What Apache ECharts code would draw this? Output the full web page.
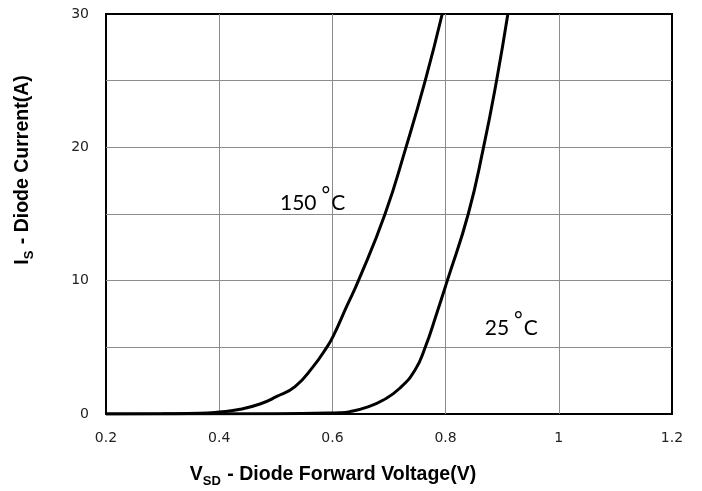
<!DOCTYPE html>
<html><head><meta charset="utf-8">
<script src="https://cdn.jsdelivr.net/npm/echarts@6/dist/echarts.min.js"></script>
<style>html,body{margin:0;padding:0;background:#fff}#c{width:702px;height:491px}</style>
</head><body><div id="c"></div>
<script>
// Tick labels
const xTicks = [0.2, 0.4, 0.6, 0.8, 1, 1.2];
const yTicks = [0, 10, 20, 30];
// 150 °C curve: forward voltage (V) vs diode current (A)
const v150 = [0.2, 0.3, 0.366, 0.4, 0.437, 0.472, 0.501, 0.534, 0.566, 0.590, 0.601, 0.625, 0.646, 0.693, 0.730, 0.764, 0.794];
const i150 = [0, 0.02, 0.05, 0.15, 0.35, 0.75, 1.3, 2.05, 3.55, 5.0, 5.8, 8.05, 10, 15, 20, 25, 30];
// 25 °C curve
const v25 = [0.2, 0.5, 0.613, 0.631, 0.660, 0.690, 0.719, 0.746, 0.764, 0.784, 0.803, 0.840, 0.867, 0.890, 0.910];
const i25 = [0, 0.01, 0.1, 0.18, 0.5, 1.05, 1.93, 3.3, 5.0, 7.5, 10, 15, 20, 25, 30];
// Curve labels
const curveNames = ['150', '25'];

const chart = echarts.init(document.getElementById('c'), null, {renderer: 'canvas'});
const zip = (xs, ys) => xs.map((x, i) => [x, ys[i]]);
const gray = '#8c8c8c';
const labelRich = {
  n: {fontFamily: 'Lato', fontSize: 21, color: '#000', verticalAlign: 'bottom'},
  d: {fontFamily: 'Lato', fontSize: 21, color: '#000', verticalAlign: 'bottom', padding: [0, 1, 8, 5]}
};
const curveLabel = {
  show: true, position: 'inside', color: '#000', opacity: 1, textBorderWidth: 0,
  formatter: p => '{n|' + p.name + '}{d|°}{n|C}',
  rich: labelRich
};
const titleRich = {
  b: {fontFamily: 'Liberation Sans', fontWeight: 'bold', fontSize: 19.5, fill: '#000', verticalAlign: 'top', lineHeight: 22},
  s: {fontFamily: 'Liberation Sans', fontWeight: 'bold', fontSize: 13, fill: '#000', verticalAlign: 'top', padding: [10, 1, 0, 0]}
};
const option = {
  animation: false,
  backgroundColor: '#fff',
  grid: {left: 106, right: 30, top: 14, bottom: 77, show: true, borderColor: '#000', borderWidth: 2, backgroundColor: 'transparent'},
  xAxis: {
    type: 'value', min: 0.2, max: 1.2, interval: 0.2,
    axisLine: {show: false}, axisTick: {show: false},
    splitLine: {show: true, showMinLine: false, showMaxLine: false, lineStyle: {color: gray, width: 1}},
    axisLabel: {
      margin: 17, color: '#222', fontSize: 14, fontFamily: 'DejaVu Sans',
      showMinLabel: true, showMaxLabel: true,
      formatter: v => { const r = Math.round(v * 10) / 10; return xTicks.some(t => Math.abs(t - r) < 1e-9) ? String(r) : ''; }
    }
  },
  yAxis: {
    type: 'value', min: 0, max: 30, interval: 5,
    axisLine: {show: false}, axisTick: {show: false},
    splitLine: {show: true, showMinLine: false, showMaxLine: false, lineStyle: {color: gray, width: 1}},
    axisLabel: {
      margin: 17, color: '#222', fontSize: 14, fontFamily: 'DejaVu Sans',
      showMinLabel: true, showMaxLabel: true,
      formatter: v => yTicks.includes(v) ? String(v) : ''
    }
  },
  series: [
    {type: 'line', data: zip(v150, i150), smooth: 0.5, showSymbol: false, symbol: 'none',
     lineStyle: {color: '#000', width: 3}, clip: true, z: 5},
    {type: 'line', data: zip(v25, i25), smooth: 0.5, showSymbol: false, symbol: 'none',
     lineStyle: {color: '#000', width: 3}, clip: true, z: 5},
    {type: 'scatter', symbolSize: 0, silent: true, z: 6,
     itemStyle: {opacity: 1},
     label: curveLabel,
     data: [
       {name: curveNames[0], value: [0.565, 16.1]},
       {name: curveNames[1], value: [0.916, 6.7]}
     ]}
  ],
  graphic: [
    {type: 'text', x: 333, y: 476, style: {
      text: '{b|V}{s|SD}{b| - Diode Forward Voltage(V)}',
      align: 'center', verticalAlign: 'middle', rich: titleRich}},
    {type: 'text', x: 24, y: 170, rotation: Math.PI / 2, style: {
      text: '{b|I}{s|S}{b| - Diode Current(A)}',
      align: 'center', verticalAlign: 'middle', rich: titleRich}}
  ]
};
chart.setOption(option);
</script></body></html>
